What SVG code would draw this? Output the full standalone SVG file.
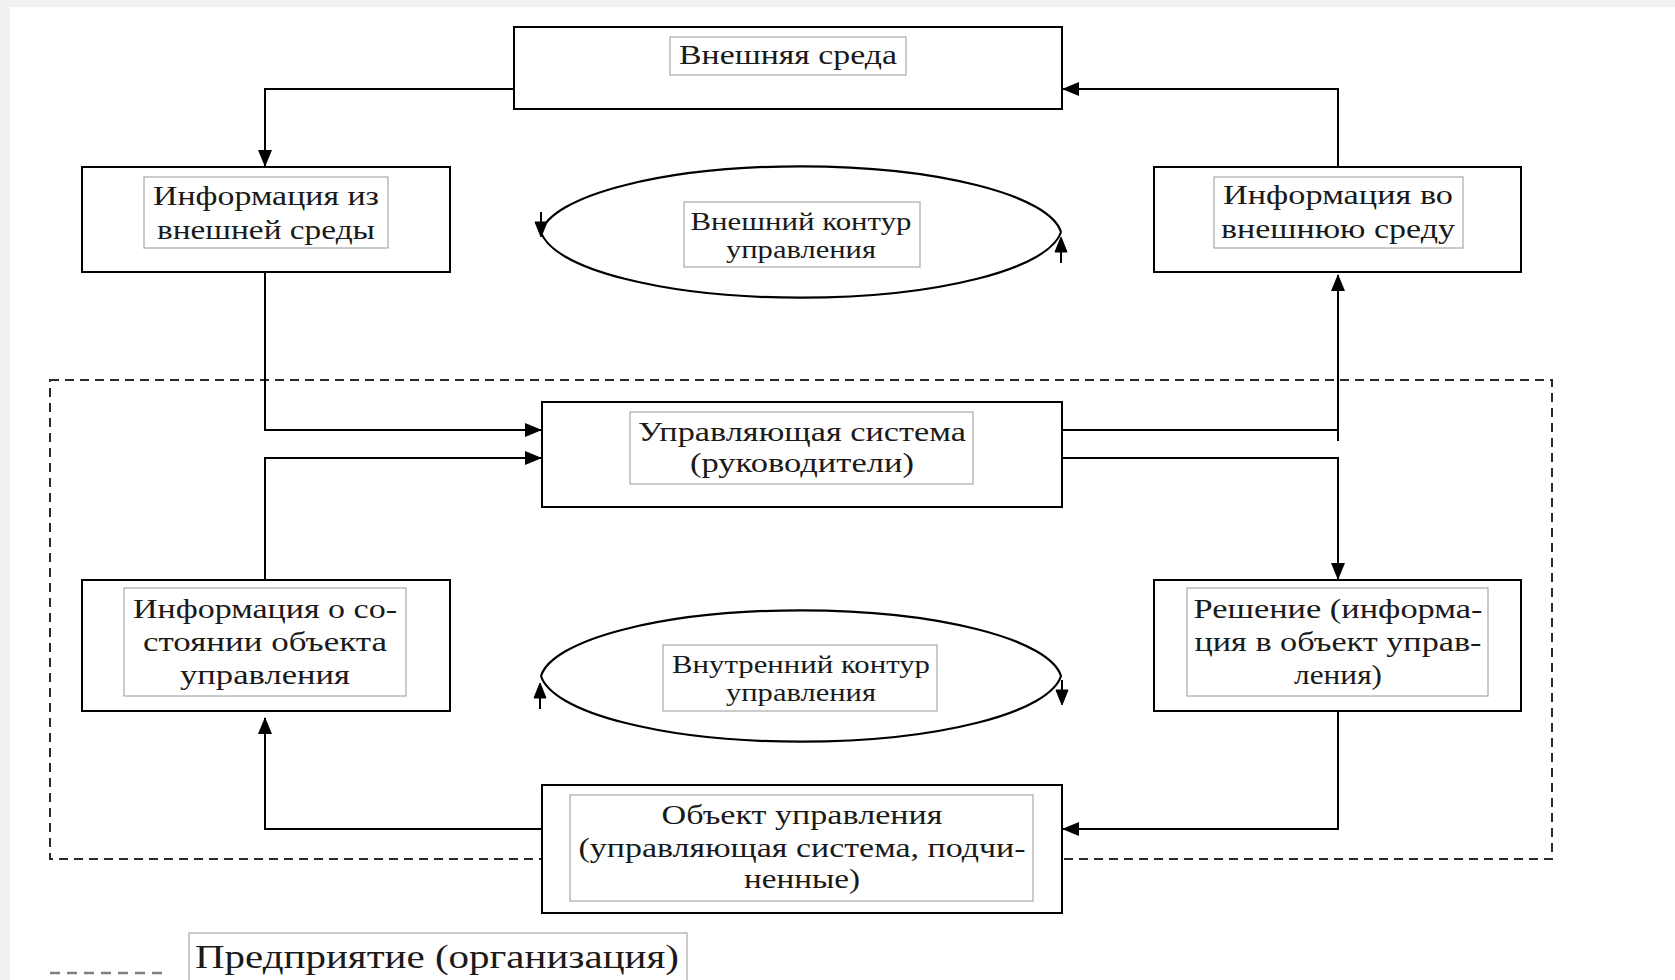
<svg xmlns="http://www.w3.org/2000/svg" width="1675" height="980" viewBox="0 0 1675 980">
<style>
.box{fill:#fff;stroke:#000;stroke-width:2}
.lbl{fill:#fff;stroke:#a8a8a8;stroke-width:1.2}
.t{font-family:"Liberation Serif","Times New Roman",serif;font-size:28px;fill:#1a1a1a;text-anchor:middle}
.te{font-family:"Liberation Serif","Times New Roman",serif;font-size:26px;fill:#1a1a1a;text-anchor:middle}
.tl{font-family:"Liberation Serif","Times New Roman",serif;font-size:33px;fill:#1a1a1a;text-anchor:middle}
.c{fill:none;stroke:#000;stroke-width:2}
.ca{fill:none;stroke:#000;stroke-width:2;marker-end:url(#ah)}
.ell{fill:none;stroke:#000;stroke-width:2.2}
.tri{fill:#000;stroke:#000;stroke-width:1}
</style>
<defs>
<marker id="ah" markerUnits="userSpaceOnUse" markerWidth="17" markerHeight="14" viewBox="0 0 17 14" refX="16" refY="7" orient="auto">
<path d="M0,0 L17,7 L0,14 z" fill="#000"/>
</marker>
</defs>
<rect x="0" y="0" width="1675" height="980" fill="#f1f1f1"/>
<rect x="10" y="7" width="1665" height="973" fill="#fff"/>

<g id="enterprise-boundary">
<rect x="50" y="380" width="1502" height="479" fill="none" stroke="#2a2a2a" stroke-width="2" stroke-dasharray="9,6"/>
</g>

<g id="connectors">
<path class="ca" d="M514,89 H265 V166"/>
<path class="ca" d="M1338,167 V89 H1063"/>
<path class="ca" d="M265,272 V430 H541"/>
<path class="ca" d="M265,580 V458 H541"/>
<path class="c" d="M1062,430 H1338"/>
<path class="ca" d="M1338,441 V275"/>
<path class="ca" d="M1062,458 H1338 V579"/>
<path class="ca" d="M1338,711 V829 H1063"/>
<path class="ca" d="M541,829 H265 V718"/>
</g>

<g id="outer-loop">
<path class="ell" d="M1061,232 A261,72 0 0 0 541,232 A261,72 0 0 0 1061,232"/>
<path class="c" d="M541,212 V224"/>
<path class="tri" d="M535,222 L547,222 L541,237 z"/>
<path class="c" d="M1061,250 V263"/>
<path class="tri" d="M1055,252 L1067,252 L1061,237 z"/>
<rect class="lbl" x="684" y="202" width="236" height="65"/>
<text class="te" x="801" y="230" textLength="221" lengthAdjust="spacingAndGlyphs">Внешний контур</text>
<text class="te" x="801" y="258" textLength="150" lengthAdjust="spacingAndGlyphs">управления</text>
</g>

<g id="inner-loop">
<path class="ell" d="M541,676 A261,72 0 0 1 1061,676 A261,72 0 0 1 541,676"/>
<path class="c" d="M540,696 V709"/>
<path class="tri" d="M534,698 L546,698 L540,683 z"/>
<path class="c" d="M1062,680 V692"/>
<path class="tri" d="M1056,690 L1068,690 L1062,705 z"/>
<rect class="lbl" x="663" y="645" width="274" height="66"/>
<text class="te" x="801" y="673" textLength="258" lengthAdjust="spacingAndGlyphs">Внутренний контур</text>
<text class="te" x="801" y="701" textLength="150" lengthAdjust="spacingAndGlyphs">управления</text>
</g>

<g id="external-environment">
<rect class="box" x="514" y="27" width="548" height="82"/>
<rect class="lbl" x="670" y="37" width="236" height="38"/>
<text class="t" x="788" y="64" textLength="218" lengthAdjust="spacingAndGlyphs">Внешняя среда</text>
</g>

<g id="info-from-env">
<rect class="box" x="82" y="167" width="368" height="105"/>
<rect class="lbl" x="144" y="177" width="244" height="71"/>
<text class="t" x="266" y="205" textLength="226" lengthAdjust="spacingAndGlyphs">Информация из</text>
<text class="t" x="266" y="239" textLength="218" lengthAdjust="spacingAndGlyphs">внешней среды</text>
</g>

<g id="info-to-env">
<rect class="box" x="1154" y="167" width="367" height="105"/>
<rect class="lbl" x="1214" y="177" width="249" height="71"/>
<text class="t" x="1338" y="204" textLength="230" lengthAdjust="spacingAndGlyphs">Информация во</text>
<text class="t" x="1338" y="238" textLength="234" lengthAdjust="spacingAndGlyphs">внешнюю среду</text>
</g>

<g id="control-system">
<rect class="box" x="542" y="402" width="520" height="105"/>
<rect class="lbl" x="630" y="412" width="343" height="72"/>
<text class="t" x="802" y="441" textLength="328" lengthAdjust="spacingAndGlyphs">Управляющая система</text>
<text class="t" x="802" y="472" textLength="224" lengthAdjust="spacingAndGlyphs">(руководители)</text>
</g>

<g id="info-state">
<rect class="box" x="82" y="580" width="368" height="131"/>
<rect class="lbl" x="124" y="588" width="282" height="108"/>
<text class="t" x="265" y="618" textLength="264" lengthAdjust="spacingAndGlyphs">Информация о со-</text>
<text class="t" x="265" y="651" textLength="244" lengthAdjust="spacingAndGlyphs">стоянии объекта</text>
<text class="t" x="265" y="684" textLength="170" lengthAdjust="spacingAndGlyphs">управления</text>
</g>

<g id="decision">
<rect class="box" x="1154" y="580" width="367" height="131"/>
<rect class="lbl" x="1187" y="588" width="301" height="108"/>
<text class="t" x="1338" y="618" textLength="289" lengthAdjust="spacingAndGlyphs">Решение (информа-</text>
<text class="t" x="1338" y="651" textLength="287" lengthAdjust="spacingAndGlyphs">ция в объект управ-</text>
<text class="t" x="1338" y="684" textLength="88" lengthAdjust="spacingAndGlyphs">ления)</text>
</g>

<g id="control-object">
<rect class="box" x="542" y="785" width="520" height="128"/>
<rect class="lbl" x="570" y="795" width="463" height="106"/>
<text class="t" x="802" y="824" textLength="281" lengthAdjust="spacingAndGlyphs">Объект управления</text>
<text class="t" x="802" y="857" textLength="447" lengthAdjust="spacingAndGlyphs">(управляющая система, подчи-</text>
<text class="t" x="802" y="888" textLength="116" lengthAdjust="spacingAndGlyphs">ненные)</text>
</g>

<g id="legend">
<line x1="50" y1="973" x2="168" y2="973" stroke="#808080" stroke-width="2.5" stroke-dasharray="10,7"/>
<rect class="lbl" x="189" y="933" width="498" height="56"/>
<text class="tl" x="437" y="968" textLength="484" lengthAdjust="spacingAndGlyphs">Предприятие (организация)</text>
</g>
</svg>
